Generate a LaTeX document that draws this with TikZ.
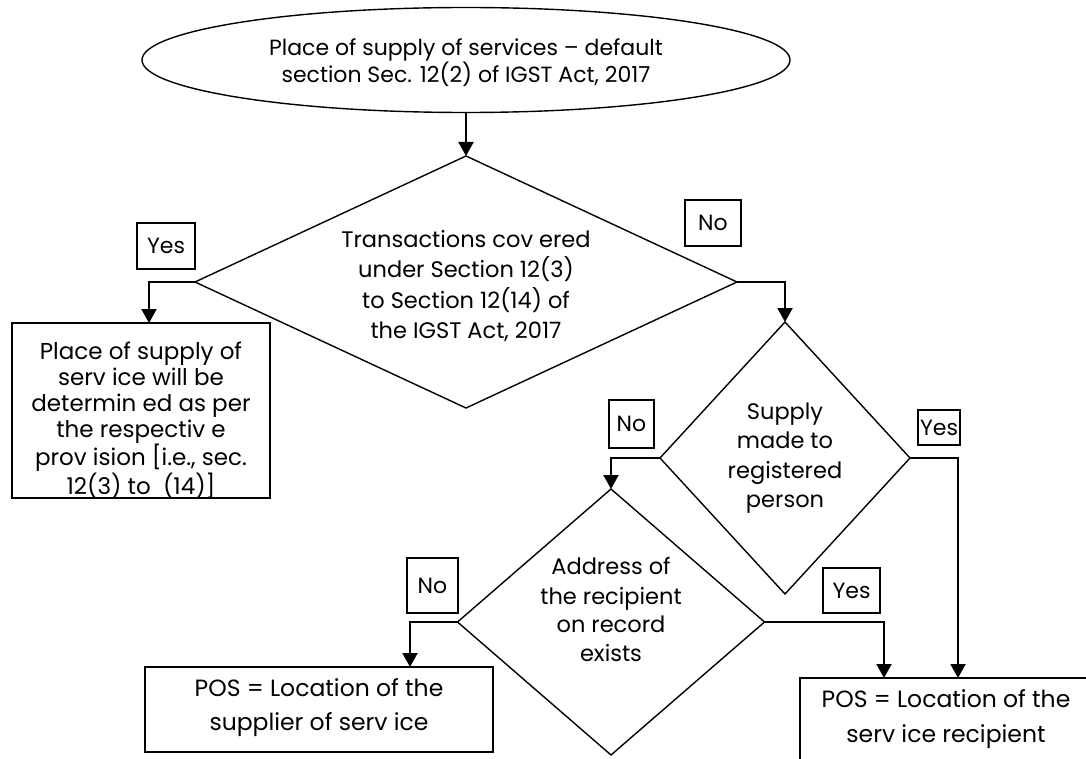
\documentclass[tikz,border=0pt]{standalone}
\usepackage{fontspec}
\setmainfont{Poppins}
\usetikzlibrary{shapes.geometric,arrows.meta}

\begin{document}
\begin{tikzpicture}[x=1pt,y=-1pt,
  outline/.style={draw, line width=1.4pt, inner sep=0pt, outer sep=0pt},
  startshape/.style={outline, ellipse},
  decision/.style={outline, diamond},
  stepbox/.style={outline, rectangle},
  tag/.style={draw, line width=1.2pt, rectangle, inner sep=0pt, outer sep=0pt,
              font=\fontsize{22}{24}\selectfont},
  txt/.style={align=center, inner sep=0pt},
  arr/.style={line width=2pt, -{Triangle[width=15pt,length=14pt]}}]

\useasboundingbox (0,0) rectangle (1086,759);
\clip (0,0) rectangle (1086,759);

% start ellipse
\node[startshape, minimum width=648pt, minimum height=105pt] (start) at (466,60) {};
\node[txt, font=\fontsize{22}{26}\selectfont] (starttxt) at (466,63)
  {Place of supply of services – default\\section Sec. 12(2) of IGST Act, 2017};

% decisions
\node[decision, minimum width=542pt, minimum height=252pt] (d1) at (466,282) {};
\node[txt, font=\fontsize{22.5}{30.5}\selectfont] (d1txt) at (466,286)
  {Transactions cov ered\\under Section 12(3)\\to Section 12(14) of\\the IGST Act, 2017};

\node[decision, minimum width=250pt, minimum height=272pt] (d2) at (785,458) {};
\node[txt, font=\fontsize{22.5}{29.5}\selectfont] (d2txt) at (785,458)
  {Supply\\made to\\registered\\person};

\node[decision, minimum width=307pt, minimum height=266pt] (d3) at (611,622) {};
\node[txt, font=\fontsize{22.5}{29}\selectfont] (d3txt) at (611,610)
  {Address of\\the recipient\\on record\\exists};

% outcome boxes
\node[stepbox, minimum width=258pt, minimum height=175pt] (b1) at (141,410.5) {};
\node[txt, font=\fontsize{23}{26}\selectfont] (b1txt) at (141,420)
  {Place of supply of\\serv ice will be\\determin ed as per\\the respectiv e\\prov ision [i.e., sec.\\12(3) to\ \ (14)]};

\node[stepbox, minimum width=348pt, minimum height=85pt] (b2) at (319,709.5) {};
\node[txt, font=\fontsize{23.5}{34}\selectfont] (b2txt) at (319,708)
  {POS = Location of the\\supplier of serv ice};

\node[stepbox, minimum width=292pt, minimum height=85pt] (b3) at (946,720.5) {};
\node[txt, font=\fontsize{23.5}{35}\selectfont] (b3txt) at (946,719)
  {POS = Location of the\\serv ice recipient};

% branch tags
\node[tag, minimum width=58pt, minimum height=46pt] (yes1) at (166,246) {Yes};
\node[tag, minimum width=56pt, minimum height=46pt] (no1) at (713,223) {No};
\node[tag, minimum width=45pt, minimum height=48pt] (no2) at (631.5,424) {No};
\node[tag, line width=2.6pt, minimum width=42pt, minimum height=35pt] (yes2) at (939,427.5) {Yes};
\node[tag, minimum width=51pt, minimum height=55pt] (no3) at (432.5,585.5) {No};
\node[tag, minimum width=57pt, minimum height=45pt] (yes3) at (851.5,590.5) {Yes};

% connectors
\draw[arr] (start.south) -- (d1.north);
\draw[arr] (d1.west) -| ([xshift=8pt]b1.north);
\draw[arr] (d1.east) -| (d2.north);
\draw[arr] (d2.west) -| (d3.north);
\draw[arr] (d2.east) -| ([xshift=158pt]b3.north west);
\draw[arr] (d3.west) -| ([xshift=265pt]b2.north west);
\draw[arr] (d3.east) -| ([xshift=84pt]b3.north west);
\end{tikzpicture}
\end{document}
